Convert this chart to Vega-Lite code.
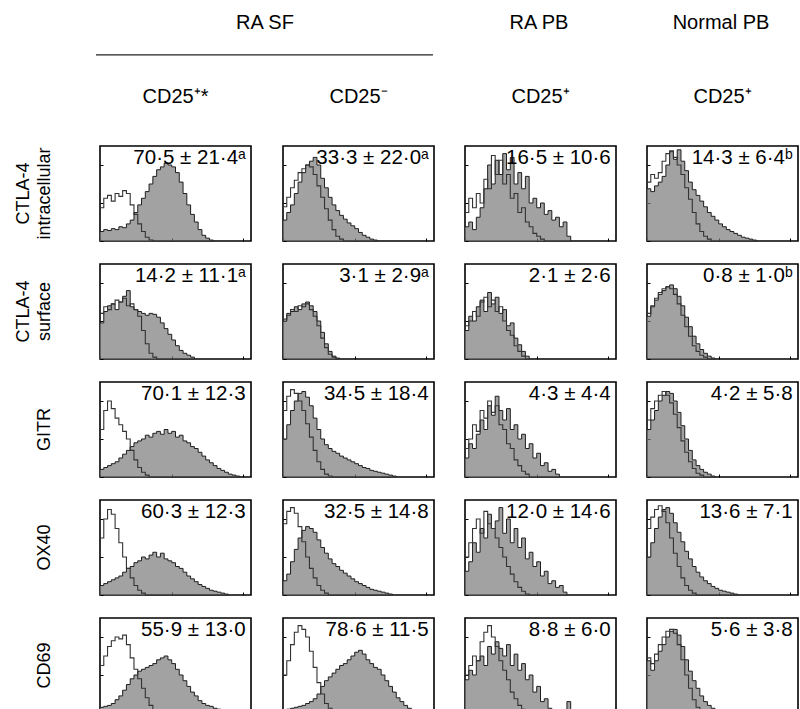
{
"$schema": "https://vega.github.io/schema/vega-lite/v6.json",
"padding": {"left": 15, "top": 13, "right": 2, "bottom": 0},
"background": "white",
"spacing": 27,
"datasets": {
"h": [
{"r":1,"c":1,"t":"70·5 ± 21·4ᵃ"},{"r":1,"c":2,"t":"33·3 ± 22·0ᵃ"},{"r":1,"c":3,"t":"16·5 ± 10·6"},{"r":1,"c":4,"t":"14·3 ± 6·4ᵇ"},
{"r":2,"c":1,"t":"14·2 ± 11·1ᵃ"},{"r":2,"c":2,"t":"3·1 ± 2·9ᵃ"},{"r":2,"c":3,"t":"2·1 ± 2·6"},{"r":2,"c":4,"t":"0·8 ± 1·0ᵇ"},
{"r":3,"c":1,"t":"70·1 ± 12·3"},{"r":3,"c":2,"t":"34·5 ± 18·4"},{"r":3,"c":3,"t":"4·3 ± 4·4"},{"r":3,"c":4,"t":"4·2 ± 5·8"},
{"r":4,"c":1,"t":"60·3 ± 12·3"},{"r":4,"c":2,"t":"32·5 ± 14·8"},{"r":4,"c":3,"t":"12·0 ± 14·6"},{"r":4,"c":4,"t":"13·6 ± 7·1"},
{"r":5,"c":1,"t":"55·9 ± 13·0"},{"r":5,"c":2,"t":"78·6 ± 11·5"},{"r":5,"c":3,"t":"8·8 ± 6·0"},{"r":5,"c":4,"t":"5·6 ± 3·8"},
{"r":1,"c":1,"x":0,"f":10,"o":35},{"r":1,"c":1,"x":1,"f":12,"o":45},{"r":1,"c":1,"x":2,"f":11,"o":48},{"r":1,"c":1,"x":3,"f":13,"o":42},{"r":1,"c":1,"x":4,"f":12,"o":50},{"r":1,"c":1,"x":5,"f":15,"o":47},{"r":1,"c":1,"x":6,"f":14,"o":53},{"r":1,"c":1,"x":7,"f":18,"o":50},{"r":1,"c":1,"x":8,"f":22,"o":38},{"r":1,"c":1,"x":9,"f":30,"o":28},{"r":1,"c":1,"x":10,"f":38,"o":18},{"r":1,"c":1,"x":11,"f":45,"o":10},{"r":1,"c":1,"x":12,"f":52,"o":4},{"r":1,"c":1,"x":13,"f":60,"o":1},{"r":1,"c":1,"x":14,"f":68,"o":0},{"r":1,"c":1,"x":15,"f":75,"o":0},{"r":1,"c":1,"x":16,"f":78,"o":0},{"r":1,"c":1,"x":17,"f":82,"o":0},{"r":1,"c":1,"x":18,"f":80,"o":0},{"r":1,"c":1,"x":19,"f":78,"o":0},{"r":1,"c":1,"x":20,"f":72,"o":0},{"r":1,"c":1,"x":21,"f":62,"o":0},{"r":1,"c":1,"x":22,"f":50,"o":0},{"r":1,"c":1,"x":23,"f":38,"o":0},{"r":1,"c":1,"x":24,"f":28,"o":0},{"r":1,"c":1,"x":25,"f":20,"o":0},{"r":1,"c":1,"x":26,"f":12,"o":0},{"r":1,"c":1,"x":27,"f":6,"o":0},{"r":1,"c":1,"x":28,"f":3,"o":0},{"r":1,"c":1,"x":29,"f":1,"o":0},{"r":1,"c":1,"x":30,"f":0,"o":0},
{"r":1,"c":2,"x":0,"f":22,"o":36},{"r":1,"c":2,"x":1,"f":30,"o":46},{"r":1,"c":2,"x":2,"f":38,"o":56},{"r":1,"c":2,"x":3,"f":50,"o":64},{"r":1,"c":2,"x":4,"f":62,"o":72},{"r":1,"c":2,"x":5,"f":72,"o":76},{"r":1,"c":2,"x":6,"f":80,"o":80},{"r":1,"c":2,"x":7,"f":84,"o":78},{"r":1,"c":2,"x":8,"f":88,"o":70},{"r":1,"c":2,"x":9,"f":80,"o":58},{"r":1,"c":2,"x":10,"f":66,"o":46},{"r":1,"c":2,"x":11,"f":56,"o":34},{"r":1,"c":2,"x":12,"f":46,"o":22},{"r":1,"c":2,"x":13,"f":38,"o":12},{"r":1,"c":2,"x":14,"f":32,"o":5},{"r":1,"c":2,"x":15,"f":27,"o":2},{"r":1,"c":2,"x":16,"f":23,"o":0},{"r":1,"c":2,"x":17,"f":19,"o":0},{"r":1,"c":2,"x":18,"f":16,"o":0},{"r":1,"c":2,"x":19,"f":13,"o":0},{"r":1,"c":2,"x":20,"f":9,"o":0},{"r":1,"c":2,"x":21,"f":6,"o":0},{"r":1,"c":2,"x":22,"f":4,"o":0},{"r":1,"c":2,"x":23,"f":2,"o":0},{"r":1,"c":2,"x":24,"f":1,"o":0},{"r":1,"c":2,"x":25,"f":0,"o":0},
{"r":1,"c":3,"x":0,"f":15,"o":30},{"r":1,"c":3,"x":1,"f":20,"o":45},{"r":1,"c":3,"x":2,"f":12,"o":35},{"r":1,"c":3,"x":3,"f":25,"o":50},{"r":1,"c":3,"x":4,"f":35,"o":40},{"r":1,"c":3,"x":5,"f":55,"o":65},{"r":1,"c":3,"x":6,"f":80,"o":55},{"r":1,"c":3,"x":7,"f":60,"o":90},{"r":1,"c":3,"x":8,"f":85,"o":70},{"r":1,"c":3,"x":9,"f":70,"o":85},{"r":1,"c":3,"x":10,"f":92,"o":60},{"r":1,"c":3,"x":11,"f":75,"o":70},{"r":1,"c":3,"x":12,"f":88,"o":45},{"r":1,"c":3,"x":13,"f":60,"o":50},{"r":1,"c":3,"x":14,"f":72,"o":30},{"r":1,"c":3,"x":15,"f":55,"o":35},{"r":1,"c":3,"x":16,"f":68,"o":20},{"r":1,"c":3,"x":17,"f":40,"o":15},{"r":1,"c":3,"x":18,"f":45,"o":8},{"r":1,"c":3,"x":19,"f":35,"o":5},{"r":1,"c":3,"x":20,"f":40,"o":2},{"r":1,"c":3,"x":21,"f":28,"o":0},{"r":1,"c":3,"x":22,"f":32,"o":0},{"r":1,"c":3,"x":23,"f":22,"o":0},{"r":1,"c":3,"x":24,"f":25,"o":0},{"r":1,"c":3,"x":25,"f":15,"o":0},{"r":1,"c":3,"x":26,"f":20,"o":0},{"r":1,"c":3,"x":27,"f":5,"o":0},{"r":1,"c":3,"x":28,"f":0,"o":0},
{"r":1,"c":4,"x":0,"f":55,"o":62},{"r":1,"c":4,"x":1,"f":52,"o":70},{"r":1,"c":4,"x":2,"f":58,"o":66},{"r":1,"c":4,"x":3,"f":62,"o":72},{"r":1,"c":4,"x":4,"f":68,"o":84},{"r":1,"c":4,"x":5,"f":80,"o":92},{"r":1,"c":4,"x":6,"f":94,"o":95},{"r":1,"c":4,"x":7,"f":86,"o":88},{"r":1,"c":4,"x":8,"f":96,"o":80},{"r":1,"c":4,"x":9,"f":84,"o":70},{"r":1,"c":4,"x":10,"f":74,"o":56},{"r":1,"c":4,"x":11,"f":62,"o":44},{"r":1,"c":4,"x":12,"f":54,"o":30},{"r":1,"c":4,"x":13,"f":48,"o":18},{"r":1,"c":4,"x":14,"f":42,"o":10},{"r":1,"c":4,"x":15,"f":36,"o":5},{"r":1,"c":4,"x":16,"f":30,"o":2},{"r":1,"c":4,"x":17,"f":26,"o":0},{"r":1,"c":4,"x":18,"f":22,"o":0},{"r":1,"c":4,"x":19,"f":18,"o":0},{"r":1,"c":4,"x":20,"f":15,"o":0},{"r":1,"c":4,"x":21,"f":12,"o":0},{"r":1,"c":4,"x":22,"f":10,"o":0},{"r":1,"c":4,"x":23,"f":8,"o":0},{"r":1,"c":4,"x":24,"f":6,"o":0},{"r":1,"c":4,"x":25,"f":4,"o":0},{"r":1,"c":4,"x":26,"f":3,"o":0},{"r":1,"c":4,"x":27,"f":2,"o":0},{"r":1,"c":4,"x":28,"f":1,"o":0},{"r":1,"c":4,"x":29,"f":0,"o":0},
{"r":2,"c":1,"x":0,"f":38,"o":48},{"r":2,"c":1,"x":1,"f":50,"o":55},{"r":2,"c":1,"x":2,"f":56,"o":52},{"r":2,"c":1,"x":3,"f":58,"o":58},{"r":2,"c":1,"x":4,"f":52,"o":62},{"r":2,"c":1,"x":5,"f":60,"o":60},{"r":2,"c":1,"x":6,"f":66,"o":64},{"r":2,"c":1,"x":7,"f":72,"o":56},{"r":2,"c":1,"x":8,"f":55,"o":58},{"r":2,"c":1,"x":9,"f":52,"o":52},{"r":2,"c":1,"x":10,"f":50,"o":45},{"r":2,"c":1,"x":11,"f":48,"o":30},{"r":2,"c":1,"x":12,"f":46,"o":16},{"r":2,"c":1,"x":13,"f":48,"o":6},{"r":2,"c":1,"x":14,"f":47,"o":2},{"r":2,"c":1,"x":15,"f":44,"o":0},{"r":2,"c":1,"x":16,"f":38,"o":0},{"r":2,"c":1,"x":17,"f":32,"o":0},{"r":2,"c":1,"x":18,"f":26,"o":0},{"r":2,"c":1,"x":19,"f":20,"o":0},{"r":2,"c":1,"x":20,"f":14,"o":0},{"r":2,"c":1,"x":21,"f":9,"o":0},{"r":2,"c":1,"x":22,"f":6,"o":0},{"r":2,"c":1,"x":23,"f":4,"o":0},{"r":2,"c":1,"x":24,"f":2,"o":0},{"r":2,"c":1,"x":25,"f":0,"o":0},
{"r":2,"c":2,"x":0,"f":40,"o":42},{"r":2,"c":2,"x":1,"f":48,"o":46},{"r":2,"c":2,"x":2,"f":50,"o":52},{"r":2,"c":2,"x":3,"f":55,"o":50},{"r":2,"c":2,"x":4,"f":52,"o":56},{"r":2,"c":2,"x":5,"f":58,"o":55},{"r":2,"c":2,"x":6,"f":60,"o":58},{"r":2,"c":2,"x":7,"f":56,"o":52},{"r":2,"c":2,"x":8,"f":50,"o":45},{"r":2,"c":2,"x":9,"f":40,"o":35},{"r":2,"c":2,"x":10,"f":28,"o":22},{"r":2,"c":2,"x":11,"f":16,"o":12},{"r":2,"c":2,"x":12,"f":8,"o":5},{"r":2,"c":2,"x":13,"f":3,"o":2},{"r":2,"c":2,"x":14,"f":1,"o":0},{"r":2,"c":2,"x":15,"f":0,"o":0},
{"r":2,"c":3,"x":0,"f":30,"o":35},{"r":2,"c":3,"x":1,"f":45,"o":40},{"r":2,"c":3,"x":2,"f":40,"o":50},{"r":2,"c":3,"x":3,"f":55,"o":45},{"r":2,"c":3,"x":4,"f":62,"o":60},{"r":2,"c":3,"x":5,"f":50,"o":65},{"r":2,"c":3,"x":6,"f":70,"o":55},{"r":2,"c":3,"x":7,"f":58,"o":62},{"r":2,"c":3,"x":8,"f":65,"o":50},{"r":2,"c":3,"x":9,"f":48,"o":55},{"r":2,"c":3,"x":10,"f":52,"o":40},{"r":2,"c":3,"x":11,"f":35,"o":30},{"r":2,"c":3,"x":12,"f":38,"o":25},{"r":2,"c":3,"x":13,"f":22,"o":14},{"r":2,"c":3,"x":14,"f":15,"o":8},{"r":2,"c":3,"x":15,"f":8,"o":3},{"r":2,"c":3,"x":16,"f":3,"o":0},{"r":2,"c":3,"x":17,"f":0,"o":0},
{"r":2,"c":4,"x":0,"f":45,"o":48},{"r":2,"c":4,"x":1,"f":55,"o":56},{"r":2,"c":4,"x":2,"f":62,"o":64},{"r":2,"c":4,"x":3,"f":68,"o":70},{"r":2,"c":4,"x":4,"f":72,"o":74},{"r":2,"c":4,"x":5,"f":76,"o":76},{"r":2,"c":4,"x":6,"f":78,"o":74},{"r":2,"c":4,"x":7,"f":74,"o":68},{"r":2,"c":4,"x":8,"f":66,"o":58},{"r":2,"c":4,"x":9,"f":56,"o":46},{"r":2,"c":4,"x":10,"f":44,"o":34},{"r":2,"c":4,"x":11,"f":34,"o":24},{"r":2,"c":4,"x":12,"f":24,"o":14},{"r":2,"c":4,"x":13,"f":16,"o":8},{"r":2,"c":4,"x":14,"f":10,"o":4},{"r":2,"c":4,"x":15,"f":6,"o":2},{"r":2,"c":4,"x":16,"f":3,"o":0},{"r":2,"c":4,"x":17,"f":1,"o":0},{"r":2,"c":4,"x":18,"f":0,"o":0},
{"r":3,"c":1,"x":0,"f":8,"o":50},{"r":3,"c":1,"x":1,"f":10,"o":70},{"r":3,"c":1,"x":2,"f":12,"o":80},{"r":3,"c":1,"x":3,"f":14,"o":72},{"r":3,"c":1,"x":4,"f":16,"o":62},{"r":3,"c":1,"x":5,"f":20,"o":55},{"r":3,"c":1,"x":6,"f":24,"o":48},{"r":3,"c":1,"x":7,"f":28,"o":40},{"r":3,"c":1,"x":8,"f":32,"o":28},{"r":3,"c":1,"x":9,"f":36,"o":18},{"r":3,"c":1,"x":10,"f":38,"o":10},{"r":3,"c":1,"x":11,"f":40,"o":5},{"r":3,"c":1,"x":12,"f":44,"o":2},{"r":3,"c":1,"x":13,"f":42,"o":0},{"r":3,"c":1,"x":14,"f":46,"o":0},{"r":3,"c":1,"x":15,"f":48,"o":0},{"r":3,"c":1,"x":16,"f":45,"o":0},{"r":3,"c":1,"x":17,"f":50,"o":0},{"r":3,"c":1,"x":18,"f":46,"o":0},{"r":3,"c":1,"x":19,"f":48,"o":0},{"r":3,"c":1,"x":20,"f":42,"o":0},{"r":3,"c":1,"x":21,"f":44,"o":0},{"r":3,"c":1,"x":22,"f":38,"o":0},{"r":3,"c":1,"x":23,"f":36,"o":0},{"r":3,"c":1,"x":24,"f":32,"o":0},{"r":3,"c":1,"x":25,"f":30,"o":0},{"r":3,"c":1,"x":26,"f":26,"o":0},{"r":3,"c":1,"x":27,"f":22,"o":0},{"r":3,"c":1,"x":28,"f":18,"o":0},{"r":3,"c":1,"x":29,"f":15,"o":0},{"r":3,"c":1,"x":30,"f":12,"o":0},{"r":3,"c":1,"x":31,"f":9,"o":0},{"r":3,"c":1,"x":32,"f":7,"o":0},{"r":3,"c":1,"x":33,"f":5,"o":0},{"r":3,"c":1,"x":34,"f":3,"o":0},{"r":3,"c":1,"x":35,"f":2,"o":0},{"r":3,"c":1,"x":36,"f":1,"o":0},{"r":3,"c":1,"x":37,"f":0,"o":0},
{"r":3,"c":2,"x":0,"f":40,"o":70},{"r":3,"c":2,"x":1,"f":55,"o":85},{"r":3,"c":2,"x":2,"f":70,"o":92},{"r":3,"c":2,"x":3,"f":80,"o":88},{"r":3,"c":2,"x":4,"f":88,"o":80},{"r":3,"c":2,"x":5,"f":90,"o":70},{"r":3,"c":2,"x":6,"f":84,"o":56},{"r":3,"c":2,"x":7,"f":75,"o":42},{"r":3,"c":2,"x":8,"f":62,"o":28},{"r":3,"c":2,"x":9,"f":50,"o":16},{"r":3,"c":2,"x":10,"f":40,"o":8},{"r":3,"c":2,"x":11,"f":34,"o":3},{"r":3,"c":2,"x":12,"f":30,"o":1},{"r":3,"c":2,"x":13,"f":27,"o":0},{"r":3,"c":2,"x":14,"f":25,"o":0},{"r":3,"c":2,"x":15,"f":22,"o":0},{"r":3,"c":2,"x":16,"f":20,"o":0},{"r":3,"c":2,"x":17,"f":18,"o":0},{"r":3,"c":2,"x":18,"f":16,"o":0},{"r":3,"c":2,"x":19,"f":14,"o":0},{"r":3,"c":2,"x":20,"f":12,"o":0},{"r":3,"c":2,"x":21,"f":10,"o":0},{"r":3,"c":2,"x":22,"f":9,"o":0},{"r":3,"c":2,"x":23,"f":7,"o":0},{"r":3,"c":2,"x":24,"f":6,"o":0},{"r":3,"c":2,"x":25,"f":5,"o":0},{"r":3,"c":2,"x":26,"f":4,"o":0},{"r":3,"c":2,"x":27,"f":3,"o":0},{"r":3,"c":2,"x":28,"f":2,"o":0},{"r":3,"c":2,"x":29,"f":1,"o":0},{"r":3,"c":2,"x":30,"f":0,"o":0},
{"r":3,"c":3,"x":0,"f":20,"o":30},{"r":3,"c":3,"x":1,"f":35,"o":40},{"r":3,"c":3,"x":2,"f":30,"o":55},{"r":3,"c":3,"x":3,"f":45,"o":48},{"r":3,"c":3,"x":4,"f":60,"o":70},{"r":3,"c":3,"x":5,"f":50,"o":62},{"r":3,"c":3,"x":6,"f":75,"o":80},{"r":3,"c":3,"x":7,"f":65,"o":68},{"r":3,"c":3,"x":8,"f":85,"o":75},{"r":3,"c":3,"x":9,"f":70,"o":55},{"r":3,"c":3,"x":10,"f":60,"o":50},{"r":3,"c":3,"x":11,"f":72,"o":35},{"r":3,"c":3,"x":12,"f":50,"o":30},{"r":3,"c":3,"x":13,"f":55,"o":18},{"r":3,"c":3,"x":14,"f":40,"o":12},{"r":3,"c":3,"x":15,"f":45,"o":6},{"r":3,"c":3,"x":16,"f":30,"o":3},{"r":3,"c":3,"x":17,"f":35,"o":0},{"r":3,"c":3,"x":18,"f":20,"o":0},{"r":3,"c":3,"x":19,"f":25,"o":0},{"r":3,"c":3,"x":20,"f":12,"o":0},{"r":3,"c":3,"x":21,"f":15,"o":0},{"r":3,"c":3,"x":22,"f":6,"o":0},{"r":3,"c":3,"x":23,"f":8,"o":0},{"r":3,"c":3,"x":24,"f":3,"o":0},{"r":3,"c":3,"x":25,"f":0,"o":0},
{"r":3,"c":4,"x":0,"f":50,"o":60},{"r":3,"c":4,"x":1,"f":60,"o":72},{"r":3,"c":4,"x":2,"f":70,"o":80},{"r":3,"c":4,"x":3,"f":80,"o":86},{"r":3,"c":4,"x":4,"f":86,"o":90},{"r":3,"c":4,"x":5,"f":90,"o":86},{"r":3,"c":4,"x":6,"f":88,"o":78},{"r":3,"c":4,"x":7,"f":80,"o":66},{"r":3,"c":4,"x":8,"f":68,"o":52},{"r":3,"c":4,"x":9,"f":54,"o":38},{"r":3,"c":4,"x":10,"f":40,"o":26},{"r":3,"c":4,"x":11,"f":28,"o":16},{"r":3,"c":4,"x":12,"f":18,"o":9},{"r":3,"c":4,"x":13,"f":12,"o":4},{"r":3,"c":4,"x":14,"f":8,"o":2},{"r":3,"c":4,"x":15,"f":5,"o":0},{"r":3,"c":4,"x":16,"f":3,"o":0},{"r":3,"c":4,"x":17,"f":1,"o":0},{"r":3,"c":4,"x":18,"f":0,"o":0},
{"r":4,"c":1,"x":0,"f":10,"o":60},{"r":4,"c":1,"x":1,"f":12,"o":80},{"r":4,"c":1,"x":2,"f":14,"o":90},{"r":4,"c":1,"x":3,"f":16,"o":85},{"r":4,"c":1,"x":4,"f":18,"o":70},{"r":4,"c":1,"x":5,"f":20,"o":55},{"r":4,"c":1,"x":6,"f":24,"o":40},{"r":4,"c":1,"x":7,"f":28,"o":28},{"r":4,"c":1,"x":8,"f":30,"o":18},{"r":4,"c":1,"x":9,"f":34,"o":10},{"r":4,"c":1,"x":10,"f":36,"o":5},{"r":4,"c":1,"x":11,"f":40,"o":2},{"r":4,"c":1,"x":12,"f":38,"o":0},{"r":4,"c":1,"x":13,"f":42,"o":0},{"r":4,"c":1,"x":14,"f":45,"o":0},{"r":4,"c":1,"x":15,"f":40,"o":0},{"r":4,"c":1,"x":16,"f":44,"o":0},{"r":4,"c":1,"x":17,"f":38,"o":0},{"r":4,"c":1,"x":18,"f":36,"o":0},{"r":4,"c":1,"x":19,"f":34,"o":0},{"r":4,"c":1,"x":20,"f":30,"o":0},{"r":4,"c":1,"x":21,"f":28,"o":0},{"r":4,"c":1,"x":22,"f":24,"o":0},{"r":4,"c":1,"x":23,"f":20,"o":0},{"r":4,"c":1,"x":24,"f":17,"o":0},{"r":4,"c":1,"x":25,"f":14,"o":0},{"r":4,"c":1,"x":26,"f":11,"o":0},{"r":4,"c":1,"x":27,"f":9,"o":0},{"r":4,"c":1,"x":28,"f":7,"o":0},{"r":4,"c":1,"x":29,"f":5,"o":0},{"r":4,"c":1,"x":30,"f":4,"o":0},{"r":4,"c":1,"x":31,"f":3,"o":0},{"r":4,"c":1,"x":32,"f":2,"o":0},{"r":4,"c":1,"x":33,"f":1,"o":0},{"r":4,"c":1,"x":34,"f":0,"o":0},
{"r":4,"c":2,"x":0,"f":15,"o":75},{"r":4,"c":2,"x":1,"f":22,"o":88},{"r":4,"c":2,"x":2,"f":35,"o":92},{"r":4,"c":2,"x":3,"f":48,"o":86},{"r":4,"c":2,"x":4,"f":60,"o":72},{"r":4,"c":2,"x":5,"f":68,"o":56},{"r":4,"c":2,"x":6,"f":72,"o":40},{"r":4,"c":2,"x":7,"f":70,"o":28},{"r":4,"c":2,"x":8,"f":66,"o":18},{"r":4,"c":2,"x":9,"f":58,"o":10},{"r":4,"c":2,"x":10,"f":50,"o":5},{"r":4,"c":2,"x":11,"f":44,"o":2},{"r":4,"c":2,"x":12,"f":38,"o":0},{"r":4,"c":2,"x":13,"f":33,"o":0},{"r":4,"c":2,"x":14,"f":30,"o":0},{"r":4,"c":2,"x":15,"f":26,"o":0},{"r":4,"c":2,"x":16,"f":23,"o":0},{"r":4,"c":2,"x":17,"f":20,"o":0},{"r":4,"c":2,"x":18,"f":17,"o":0},{"r":4,"c":2,"x":19,"f":14,"o":0},{"r":4,"c":2,"x":20,"f":12,"o":0},{"r":4,"c":2,"x":21,"f":10,"o":0},{"r":4,"c":2,"x":22,"f":8,"o":0},{"r":4,"c":2,"x":23,"f":6,"o":0},{"r":4,"c":2,"x":24,"f":5,"o":0},{"r":4,"c":2,"x":25,"f":4,"o":0},{"r":4,"c":2,"x":26,"f":3,"o":0},{"r":4,"c":2,"x":27,"f":2,"o":0},{"r":4,"c":2,"x":28,"f":1,"o":0},{"r":4,"c":2,"x":29,"f":0,"o":0},
{"r":4,"c":3,"x":0,"f":25,"o":40},{"r":4,"c":3,"x":1,"f":35,"o":55},{"r":4,"c":3,"x":2,"f":55,"o":70},{"r":4,"c":3,"x":3,"f":45,"o":80},{"r":4,"c":3,"x":4,"f":70,"o":65},{"r":4,"c":3,"x":5,"f":60,"o":88},{"r":4,"c":3,"x":6,"f":85,"o":75},{"r":4,"c":3,"x":7,"f":70,"o":70},{"r":4,"c":3,"x":8,"f":78,"o":60},{"r":4,"c":3,"x":9,"f":92,"o":50},{"r":4,"c":3,"x":10,"f":65,"o":40},{"r":4,"c":3,"x":11,"f":80,"o":30},{"r":4,"c":3,"x":12,"f":55,"o":22},{"r":4,"c":3,"x":13,"f":70,"o":14},{"r":4,"c":3,"x":14,"f":50,"o":8},{"r":4,"c":3,"x":15,"f":60,"o":4},{"r":4,"c":3,"x":16,"f":38,"o":1},{"r":4,"c":3,"x":17,"f":45,"o":0},{"r":4,"c":3,"x":18,"f":30,"o":0},{"r":4,"c":3,"x":19,"f":35,"o":0},{"r":4,"c":3,"x":20,"f":20,"o":0},{"r":4,"c":3,"x":21,"f":25,"o":0},{"r":4,"c":3,"x":22,"f":12,"o":0},{"r":4,"c":3,"x":23,"f":15,"o":0},{"r":4,"c":3,"x":24,"f":8,"o":0},{"r":4,"c":3,"x":25,"f":10,"o":0},{"r":4,"c":3,"x":26,"f":3,"o":0},{"r":4,"c":3,"x":27,"f":0,"o":0},
{"r":4,"c":4,"x":0,"f":40,"o":70},{"r":4,"c":4,"x":1,"f":55,"o":82},{"r":4,"c":4,"x":2,"f":70,"o":90},{"r":4,"c":4,"x":3,"f":82,"o":94},{"r":4,"c":4,"x":4,"f":90,"o":88},{"r":4,"c":4,"x":5,"f":92,"o":76},{"r":4,"c":4,"x":6,"f":86,"o":60},{"r":4,"c":4,"x":7,"f":76,"o":44},{"r":4,"c":4,"x":8,"f":66,"o":30},{"r":4,"c":4,"x":9,"f":56,"o":18},{"r":4,"c":4,"x":10,"f":46,"o":10},{"r":4,"c":4,"x":11,"f":38,"o":5},{"r":4,"c":4,"x":12,"f":30,"o":2},{"r":4,"c":4,"x":13,"f":24,"o":0},{"r":4,"c":4,"x":14,"f":19,"o":0},{"r":4,"c":4,"x":15,"f":15,"o":0},{"r":4,"c":4,"x":16,"f":12,"o":0},{"r":4,"c":4,"x":17,"f":9,"o":0},{"r":4,"c":4,"x":18,"f":7,"o":0},{"r":4,"c":4,"x":19,"f":5,"o":0},{"r":4,"c":4,"x":20,"f":4,"o":0},{"r":4,"c":4,"x":21,"f":3,"o":0},{"r":4,"c":4,"x":22,"f":2,"o":0},{"r":4,"c":4,"x":23,"f":1,"o":0},{"r":4,"c":4,"x":24,"f":0,"o":0},
{"r":5,"c":1,"x":0,"f":6,"o":50},{"r":5,"c":1,"x":1,"f":7,"o":60},{"r":5,"c":1,"x":2,"f":8,"o":70},{"r":5,"c":1,"x":3,"f":10,"o":76},{"r":5,"c":1,"x":4,"f":14,"o":80},{"r":5,"c":1,"x":5,"f":18,"o":78},{"r":5,"c":1,"x":6,"f":24,"o":82},{"r":5,"c":1,"x":7,"f":30,"o":72},{"r":5,"c":1,"x":8,"f":36,"o":58},{"r":5,"c":1,"x":9,"f":40,"o":46},{"r":5,"c":1,"x":10,"f":44,"o":36},{"r":5,"c":1,"x":11,"f":46,"o":26},{"r":5,"c":1,"x":12,"f":48,"o":16},{"r":5,"c":1,"x":13,"f":50,"o":8},{"r":5,"c":1,"x":14,"f":52,"o":3},{"r":5,"c":1,"x":15,"f":56,"o":0},{"r":5,"c":1,"x":16,"f":58,"o":0},{"r":5,"c":1,"x":17,"f":60,"o":0},{"r":5,"c":1,"x":18,"f":56,"o":0},{"r":5,"c":1,"x":19,"f":52,"o":0},{"r":5,"c":1,"x":20,"f":46,"o":0},{"r":5,"c":1,"x":21,"f":40,"o":0},{"r":5,"c":1,"x":22,"f":34,"o":0},{"r":5,"c":1,"x":23,"f":28,"o":0},{"r":5,"c":1,"x":24,"f":22,"o":0},{"r":5,"c":1,"x":25,"f":18,"o":0},{"r":5,"c":1,"x":26,"f":13,"o":0},{"r":5,"c":1,"x":27,"f":10,"o":0},{"r":5,"c":1,"x":28,"f":8,"o":0},{"r":5,"c":1,"x":29,"f":7,"o":0},{"r":5,"c":1,"x":30,"f":5,"o":0},{"r":5,"c":1,"x":31,"f":4,"o":0},{"r":5,"c":1,"x":32,"f":2,"o":0},{"r":5,"c":1,"x":33,"f":0,"o":0},
{"r":5,"c":2,"x":0,"f":3,"o":40},{"r":5,"c":2,"x":1,"f":4,"o":55},{"r":5,"c":2,"x":2,"f":5,"o":72},{"r":5,"c":2,"x":3,"f":6,"o":85},{"r":5,"c":2,"x":4,"f":7,"o":92},{"r":5,"c":2,"x":5,"f":8,"o":88},{"r":5,"c":2,"x":6,"f":10,"o":80},{"r":5,"c":2,"x":7,"f":12,"o":65},{"r":5,"c":2,"x":8,"f":15,"o":48},{"r":5,"c":2,"x":9,"f":20,"o":32},{"r":5,"c":2,"x":10,"f":28,"o":20},{"r":5,"c":2,"x":11,"f":34,"o":10},{"r":5,"c":2,"x":12,"f":38,"o":5},{"r":5,"c":2,"x":13,"f":42,"o":2},{"r":5,"c":2,"x":14,"f":46,"o":0},{"r":5,"c":2,"x":15,"f":50,"o":0},{"r":5,"c":2,"x":16,"f":52,"o":0},{"r":5,"c":2,"x":17,"f":56,"o":0},{"r":5,"c":2,"x":18,"f":60,"o":0},{"r":5,"c":2,"x":19,"f":64,"o":0},{"r":5,"c":2,"x":20,"f":66,"o":0},{"r":5,"c":2,"x":21,"f":62,"o":0},{"r":5,"c":2,"x":22,"f":56,"o":0},{"r":5,"c":2,"x":23,"f":52,"o":0},{"r":5,"c":2,"x":24,"f":48,"o":0},{"r":5,"c":2,"x":25,"f":46,"o":0},{"r":5,"c":2,"x":26,"f":40,"o":0},{"r":5,"c":2,"x":27,"f":34,"o":0},{"r":5,"c":2,"x":28,"f":28,"o":0},{"r":5,"c":2,"x":29,"f":22,"o":0},{"r":5,"c":2,"x":30,"f":16,"o":0},{"r":5,"c":2,"x":31,"f":12,"o":0},{"r":5,"c":2,"x":32,"f":8,"o":0},{"r":5,"c":2,"x":33,"f":5,"o":0},{"r":5,"c":2,"x":34,"f":3,"o":0},{"r":5,"c":2,"x":35,"f":1,"o":0},{"r":5,"c":2,"x":36,"f":0,"o":0},
{"r":5,"c":3,"x":0,"f":35,"o":40},{"r":5,"c":3,"x":1,"f":45,"o":50},{"r":5,"c":3,"x":2,"f":40,"o":60},{"r":5,"c":3,"x":3,"f":55,"o":55},{"r":5,"c":3,"x":4,"f":60,"o":75},{"r":5,"c":3,"x":5,"f":50,"o":85},{"r":5,"c":3,"x":6,"f":70,"o":92},{"r":5,"c":3,"x":7,"f":62,"o":80},{"r":5,"c":3,"x":8,"f":75,"o":70},{"r":5,"c":3,"x":9,"f":68,"o":55},{"r":5,"c":3,"x":10,"f":60,"o":45},{"r":5,"c":3,"x":11,"f":72,"o":35},{"r":5,"c":3,"x":12,"f":50,"o":22},{"r":5,"c":3,"x":13,"f":62,"o":15},{"r":5,"c":3,"x":14,"f":45,"o":8},{"r":5,"c":3,"x":15,"f":52,"o":4},{"r":5,"c":3,"x":16,"f":35,"o":0},{"r":5,"c":3,"x":17,"f":40,"o":0},{"r":5,"c":3,"x":18,"f":22,"o":0},{"r":5,"c":3,"x":19,"f":28,"o":0},{"r":5,"c":3,"x":20,"f":12,"o":0},{"r":5,"c":3,"x":21,"f":15,"o":0},{"r":5,"c":3,"x":22,"f":5,"o":0},{"r":5,"c":3,"x":23,"f":3,"o":0},{"r":5,"c":3,"x":24,"f":0,"o":0},{"r":5,"c":3,"x":25,"f":0,"o":0},{"r":5,"c":3,"x":26,"f":0,"o":0},{"r":5,"c":3,"x":27,"f":12,"o":0},{"r":5,"c":3,"x":28,"f":0,"o":0},
{"r":5,"c":4,"x":0,"f":55,"o":58},{"r":5,"c":4,"x":1,"f":45,"o":52},{"r":5,"c":4,"x":2,"f":55,"o":62},{"r":5,"c":4,"x":3,"f":65,"o":72},{"r":5,"c":4,"x":4,"f":72,"o":80},{"r":5,"c":4,"x":5,"f":80,"o":86},{"r":5,"c":4,"x":6,"f":86,"o":88},{"r":5,"c":4,"x":7,"f":88,"o":84},{"r":5,"c":4,"x":8,"f":82,"o":72},{"r":5,"c":4,"x":9,"f":70,"o":56},{"r":5,"c":4,"x":10,"f":56,"o":40},{"r":5,"c":4,"x":11,"f":44,"o":26},{"r":5,"c":4,"x":12,"f":34,"o":14},{"r":5,"c":4,"x":13,"f":26,"o":6},{"r":5,"c":4,"x":14,"f":18,"o":2},{"r":5,"c":4,"x":15,"f":12,"o":0},{"r":5,"c":4,"x":16,"f":8,"o":0},{"r":5,"c":4,"x":17,"f":5,"o":0},{"r":5,"c":4,"x":18,"f":3,"o":0},{"r":5,"c":4,"x":19,"f":2,"o":0},{"r":5,"c":4,"x":20,"f":0,"o":0}
]
},
"hconcat": [
{
"data": {"name": "h"},
"transform": [{"filter": "datum.c <= 2"}],
"bounds": "flush",
"facet": {
"row": {"field": "r", "type": "ordinal", "header": {"title": null, "labelExpr": "datum.value == 1 ? ['CTLA-4','intracellular'] : datum.value == 2 ? ['CTLA-4','surface'] : datum.value == 3 ? 'GITR' : datum.value == 4 ? 'OX40' : 'CD69'", "labelAngle": -90, "labelAlign": "center", "labelBaseline": "bottom", "labelPadding": 28, "labelLineHeight": 21, "labelFontSize": 18}},
"column": {"field": "c", "type": "ordinal", "header": {"title": "RA SF", "labelExpr": "datum.value == 1 ? 'CD25⁺*' : 'CD25⁻'", "labelPadding": 39, "titlePadding": 44}}
},
"spacing": {"row": 23, "column": 32},
"spec": {
"width": 151, "height": 95,
"layer": [
{"transform": [{"filter": "isValid(datum.f)"}], "mark": {"type": "area", "interpolate": "step-after", "color": "#7a7a7a", "line": {"color": "#1e1e1e", "strokeWidth": 1}},
"encoding": {
"x": {"field": "x", "type": "quantitative", "scale": {"domain": [0, 40], "nice": false, "zero": false}, "axis": {"values": [0,3.01,4.77,6.02,6.99,7.78,8.45,9.03,9.54,10,13.01,14.77,16.02,16.99,17.78,18.45,19.03,19.54,20,23.01,24.77,26.02,26.99,27.78,28.45,29.03,29.54,30,33.01,34.77,36.02,36.99,37.78,38.45,39.03,39.54,40]}},
"y": {"field": "f", "type": "quantitative", "scale": {"domain": [0, 100], "nice": false}, "axis": {"values": [0,5,10,15,20,25,30,35,40,45,50,55,60,65,70,75,80,85,90,95,100]}}
}},
{"transform": [{"filter": "isValid(datum.o)"}], "mark": {"type": "line", "interpolate": "step-after", "color": "#333333", "strokeWidth": 1.1},
"encoding": {"x": {"field": "x", "type": "quantitative"}, "y": {"field": "o", "type": "quantitative"}}},
{"transform": [{"filter": "isValid(datum.t)"}], "mark": {"type": "text", "align": "right", "baseline": "top", "fontSize": 20.5, "color": "#000"},
"encoding": {"x": {"datum": 38.6}, "y": {"datum": 97.5}, "text": {"field": "t"}}},
{"transform": [{"filter": "datum.r == 1 && datum.c == 1 && isValid(datum.t)"}], "mark": {"type": "rule", "color": "#222", "strokeWidth": 1.3},
"encoding": {"x": {"datum": -1.06}, "x2": {"datum": 88.2}, "y": {"datum": 196}}}
]
},
"resolve": {"axis": {"x": "independent", "y": "independent"}}
},
{
"data": {"name": "h"},
"transform": [{"filter": "datum.c == 3"}],
"bounds": "flush",
"facet": {
"row": {"field": "r", "type": "ordinal", "header": {"title": null, "labels": false}},
"column": {"field": "c", "type": "ordinal", "header": {"title": "RA PB", "labelExpr": "'CD25⁺'", "labelPadding": 39, "titlePadding": 44}}
},
"spacing": {"row": 23},
"spec": {
"width": 151, "height": 95,
"layer": [
{"transform": [{"filter": "isValid(datum.f)"}], "mark": {"type": "area", "interpolate": "step-after", "color": "#7a7a7a", "line": {"color": "#1e1e1e", "strokeWidth": 1}},
"encoding": {
"x": {"field": "x", "type": "quantitative", "scale": {"domain": [0, 40], "nice": false, "zero": false}, "axis": {"values": [0,3.01,4.77,6.02,6.99,7.78,8.45,9.03,9.54,10,13.01,14.77,16.02,16.99,17.78,18.45,19.03,19.54,20,23.01,24.77,26.02,26.99,27.78,28.45,29.03,29.54,30,33.01,34.77,36.02,36.99,37.78,38.45,39.03,39.54,40]}},
"y": {"field": "f", "type": "quantitative", "scale": {"domain": [0, 100], "nice": false}, "axis": {"values": [0,5,10,15,20,25,30,35,40,45,50,55,60,65,70,75,80,85,90,95,100]}}
}},
{"transform": [{"filter": "isValid(datum.o)"}], "mark": {"type": "line", "interpolate": "step-after", "color": "#333333", "strokeWidth": 1.1},
"encoding": {"x": {"field": "x", "type": "quantitative"}, "y": {"field": "o", "type": "quantitative"}}},
{"transform": [{"filter": "isValid(datum.t)"}], "mark": {"type": "text", "align": "right", "baseline": "top", "fontSize": 20.5, "color": "#000"},
"encoding": {"x": {"datum": 38.6}, "y": {"datum": 97.5}, "text": {"field": "t"}}}
]
},
"resolve": {"axis": {"x": "independent", "y": "independent"}}
},
{
"data": {"name": "h"},
"transform": [{"filter": "datum.c == 4"}],
"bounds": "flush",
"facet": {
"row": {"field": "r", "type": "ordinal", "header": {"title": null, "labels": false}},
"column": {"field": "c", "type": "ordinal", "header": {"title": "Normal PB", "labelExpr": "'CD25⁺'", "labelPadding": 39, "titlePadding": 44}}
},
"spacing": {"row": 23},
"spec": {
"width": 151, "height": 95,
"layer": [
{"transform": [{"filter": "isValid(datum.f)"}], "mark": {"type": "area", "interpolate": "step-after", "color": "#7a7a7a", "line": {"color": "#1e1e1e", "strokeWidth": 1}},
"encoding": {
"x": {"field": "x", "type": "quantitative", "scale": {"domain": [0, 40], "nice": false, "zero": false}, "axis": {"values": [0,3.01,4.77,6.02,6.99,7.78,8.45,9.03,9.54,10,13.01,14.77,16.02,16.99,17.78,18.45,19.03,19.54,20,23.01,24.77,26.02,26.99,27.78,28.45,29.03,29.54,30,33.01,34.77,36.02,36.99,37.78,38.45,39.03,39.54,40]}},
"y": {"field": "f", "type": "quantitative", "scale": {"domain": [0, 100], "nice": false}, "axis": {"values": [0,5,10,15,20,25,30,35,40,45,50,55,60,65,70,75,80,85,90,95,100]}}
}},
{"transform": [{"filter": "isValid(datum.o)"}], "mark": {"type": "line", "interpolate": "step-after", "color": "#333333", "strokeWidth": 1.1},
"encoding": {"x": {"field": "x", "type": "quantitative"}, "y": {"field": "o", "type": "quantitative"}}},
{"transform": [{"filter": "isValid(datum.t)"}], "mark": {"type": "text", "align": "right", "baseline": "top", "fontSize": 20.5, "color": "#000"},
"encoding": {"x": {"datum": 38.6}, "y": {"datum": 97.5}, "text": {"field": "t"}}}
]
},
"resolve": {"axis": {"x": "independent", "y": "independent"}}
}
],
"config": {
"font": "Liberation Sans",
"view": {"stroke": "#000", "strokeWidth": 1.6},
"axis": {"labels": false, "title": null, "grid": false, "domain": false, "ticks": true, "tickSize": -3, "tickColor": "#000", "tickWidth": 1, "zindex": 1},
"header": {"titleFont": "Liberation Sans", "titleFontSize": 20, "titleFontWeight": "normal", "titleColor": "#000", "labelFont": "Liberation Sans", "labelFontSize": 20, "labelColor": "#000"},
"text": {"font": "Liberation Sans"}
}
}
